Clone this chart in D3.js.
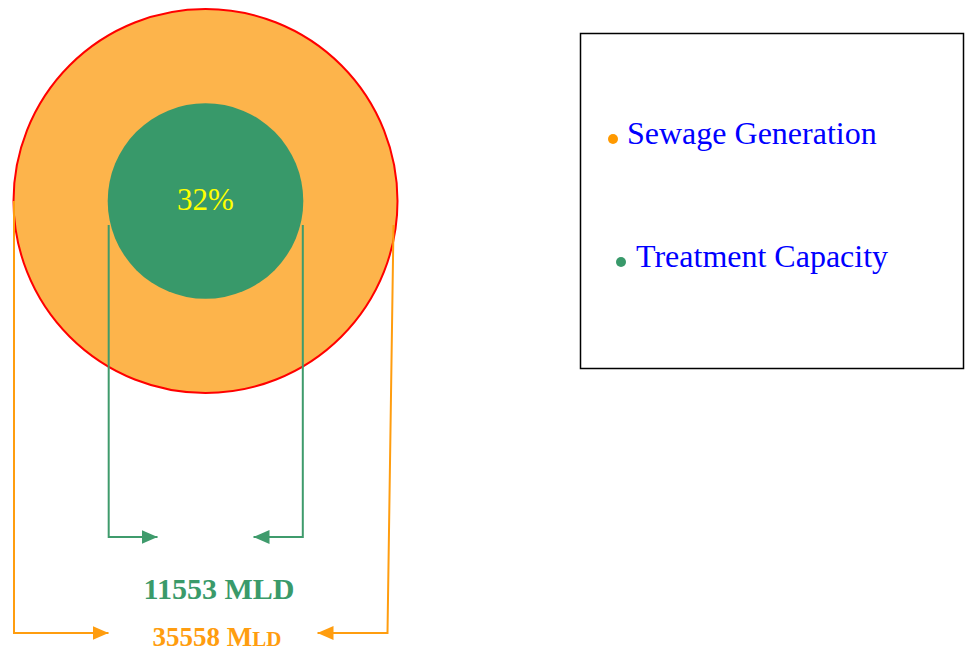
<!DOCTYPE html>
<html>
<head>
<meta charset="utf-8">
<script src="https://cdn.jsdelivr.net/npm/d3@7"></script>
<style>
  body { margin: 0; background: #fff; }
  svg text { font-family: "Liberation Serif", "Times New Roman", serif; }
</style>
</head>
<body>
<div id="chart"></div>
<script>
// Data
var categories = ["Sewage Generation", "Treatment Capacity"];
var values = [35558, 11553];          // MLD
var shareLabel = ["32%"];
var fills = ["#fdb44b", "#38996a"];
var lineColors = ["#ff9d0f", "#3f9b6c"];
var dotColors = ["#ff9900", "#38996a"];

var width = 973, height = 654;

var svg = d3.select("#chart")
  .append("svg")
    .attr("width", width)
    .attr("height", height);

// Radius scale (outer circle fills the left panel)
var r = d3.scalePow().exponent(0.6)
  .domain([0, d3.max(values)])
  .range([0, 192]);

var cx = 205.5, cy = 201;

// Arrow markers
var defs = svg.append("defs");
[0, 1].forEach(function(i) {
  defs.append("marker")
    .attr("id", "arrow" + i)
    .attr("viewBox", "0 0 16 14")
    .attr("refX", 16).attr("refY", 7)
    .attr("markerWidth", 16).attr("markerHeight", 14)
    .attr("markerUnits", "userSpaceOnUse")
    .attr("orient", "auto")
    .append("path")
      .attr("d", "M0,0L16,7L0,14Z")
      .attr("fill", lineColors[i]);
});

// Circles
svg.append("g").selectAll("circle")
  .data(values)
  .enter()
  .append("circle")
    .attr("cx", cx)
    .attr("cy", cy)
    .attr("r", function(d) { return r(d); })
    .attr("fill", function(d, i) { return fills[i]; })
    .attr("stroke", function(d, i) { return i === 0 ? "#ff0000" : "none"; })
    .attr("stroke-width", 2);

svg.append("text")
  .attr("x", cx)
  .attr("y", cy + 9)
  .attr("text-anchor", "middle")
  .style("font-size", "31px")
  .style("fill", "#ffff00")
  .text(shareLabel[0]);

// Bracket lines from circle edges down to the value labels
var rO = r(values[0]), rI = r(values[1]);
var brackets = [
  // orange, outer circle
  { i: 0, pts: [[cx - rO + 0.5, cy], [cx - rO + 0.5, 633], [cx - 97, 633]] },
  { i: 0, pts: [[cx + rO - 4, 225], [cx + rO - 10, 633], [cx + 112, 633]] },
  // green, inner circle
  { i: 1, pts: [[cx - rI + 1, 225], [cx - rI + 1, 537], [cx - 48, 537]] },
  { i: 1, pts: [[cx + rI - 0.5, 225], [cx + rI - 0.5, 537], [cx + 48, 537]] }
];
var line = d3.line();
svg.append("g").selectAll("path")
  .data(brackets)
  .enter()
  .append("path")
    .attr("d", function(d) { return line(d.pts); })
    .attr("fill", "none")
    .attr("stroke", function(d) { return lineColors[d.i]; })
    .attr("stroke-width", 2)
    .attr("marker-end", function(d) { return "url(#arrow" + d.i + ")"; });

// Value labels
svg.append("text")
  .attr("x", 219)
  .attr("y", 599)
  .attr("text-anchor", "middle")
  .style("font-size", "30px")
  .style("font-weight", "bold")
  .style("fill", "#3a9a6a")
  .text(values[1] + " MLD");

var t2 = svg.append("text")
  .attr("x", 217)
  .attr("y", 646)
  .attr("text-anchor", "middle")
  .style("font-weight", "bold")
  .style("fill", "#ff9d0f");
t2.append("tspan").style("font-size", "27px").text(values[0] + " M");
t2.append("tspan").style("font-size", "21px").text("LD");

// Legend
svg.append("rect")
  .attr("x", 580.5).attr("y", 33.5)
  .attr("width", 383).attr("height", 335)
  .attr("fill", "none")
  .attr("stroke", "#000")
  .attr("stroke-width", 1.5);

var legendPos = [[613, 139, 627, 144], [621, 262, 636, 267]];
var lg = svg.append("g").selectAll("g")
  .data(categories)
  .enter()
  .append("g");
lg.append("circle")
  .attr("cx", function(d, i) { return legendPos[i][0]; })
  .attr("cy", function(d, i) { return legendPos[i][1]; })
  .attr("r", 5)
  .attr("fill", function(d, i) { return dotColors[i]; });
lg.append("text")
  .attr("x", function(d, i) { return legendPos[i][2]; })
  .attr("y", function(d, i) { return legendPos[i][3]; })
  .style("font-size", "32px")
  .style("fill", "#0000ff")
  .text(function(d) { return d; });
</script>
</body>
</html>
